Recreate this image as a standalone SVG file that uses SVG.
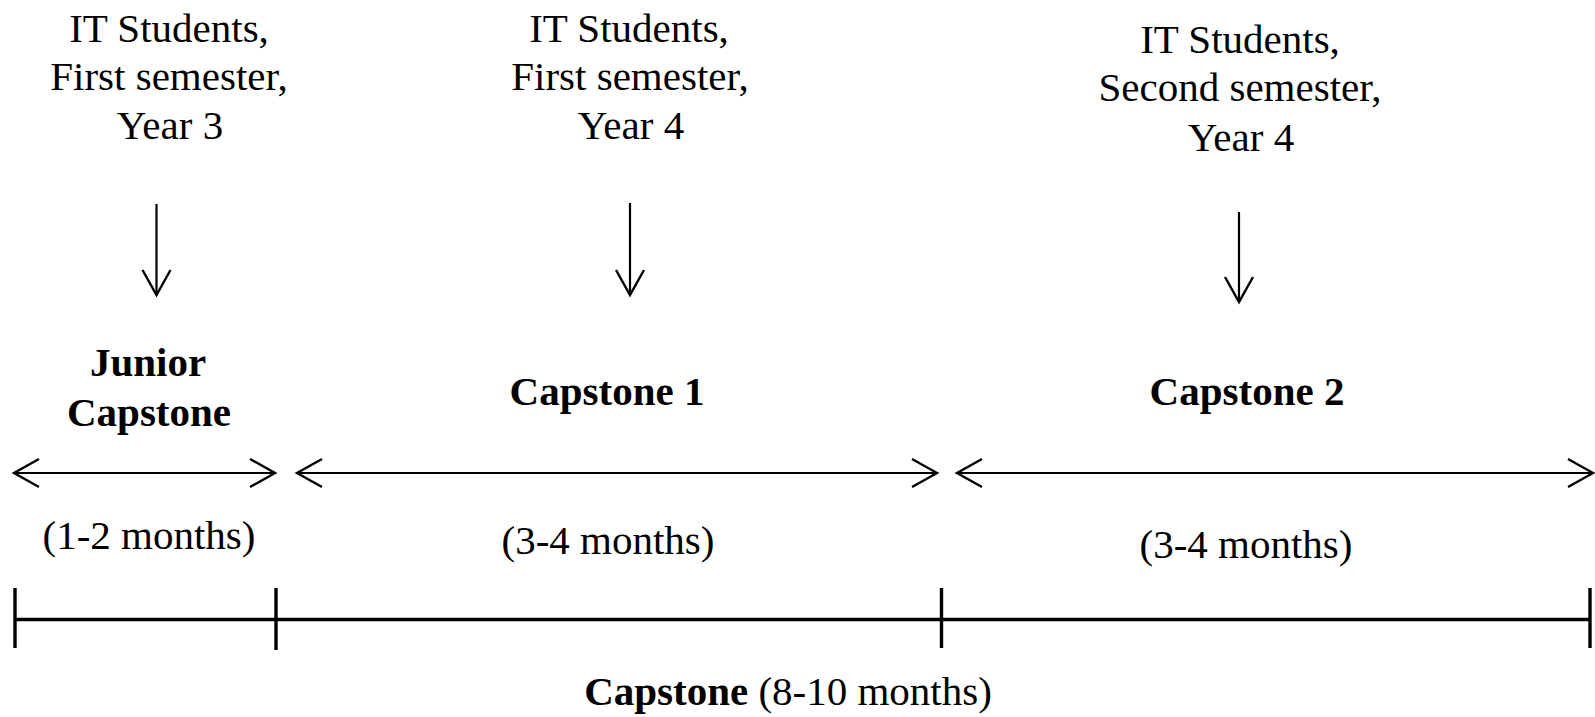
<svg xmlns="http://www.w3.org/2000/svg" width="1595" height="717" viewBox="0 0 1595 717">
<style>
text{font-size:41px;fill:#000;text-anchor:middle}
.b{font-weight:bold}
.thin{stroke:#000;stroke-width:2.2;fill:none}
.thick{stroke:#000;stroke-width:3.4;fill:none}
</style>
<defs>
<marker id="ah" markerUnits="userSpaceOnUse" markerWidth="60" markerHeight="60" refX="0" refY="0" orient="auto-start-reverse" overflow="visible">
<path d="M-25,-14 L0,0 L-25,14" fill="none" stroke="#000" stroke-width="2.4" stroke-linejoin="miter"/>
</marker>
</defs>
<rect width="1595" height="717" fill="#fff"/>
<g font-family="Liberation Serif, Times New Roman, DejaVu Serif, serif">
<g id="group1">
<text x="169" y="42">IT Students,</text>
<text x="169" y="90">First semester,</text>
<text x="170" y="139">Year 3</text>
</g>
<g id="group2">
<text x="629" y="42">IT Students,</text>
<text x="630" y="90">First semester,</text>
<text x="631" y="139">Year 4</text>
</g>
<g id="group3">
<text x="1240" y="53">IT Students,</text>
<text x="1240" y="101">Second semester,</text>
<text x="1241" y="151">Year 4</text>
</g>
<g id="junior">
<text class="b" x="148" y="376">Junior</text>
<text class="b" x="149" y="426">Capstone</text>
<text x="149" y="549">(1-2 months)</text>
</g>
<g id="capstone1">
<text class="b" x="607" y="405">Capstone 1</text>
<text x="608" y="554">(3-4 months)</text>
</g>
<g id="capstone2">
<text class="b" x="1247" y="405">Capstone 2</text>
<text x="1246" y="558">(3-4 months)</text>
</g>
<g id="total">
<text x="788" y="705"><tspan class="b">Capstone</tspan> (8-10 months)</text>
</g>
</g>
<g id="connectors">
<line class="thin" x1="156.5" y1="204" x2="156.5" y2="295" marker-end="url(#ah)"/>
<line class="thin" x1="630" y1="203" x2="630" y2="295" marker-end="url(#ah)"/>
<line class="thin" x1="1239" y1="212" x2="1239" y2="302" marker-end="url(#ah)"/>
<line class="thin" x1="14" y1="473" x2="275" y2="473" marker-start="url(#ah)" marker-end="url(#ah)"/>
<line class="thin" x1="297" y1="473" x2="937" y2="473" marker-start="url(#ah)" marker-end="url(#ah)"/>
<line class="thin" x1="957" y1="473" x2="1593" y2="473" marker-start="url(#ah)" marker-end="url(#ah)"/>
<line class="thick" x1="15" y1="619.5" x2="1590" y2="619.5"/>
<line class="thick" x1="15" y1="588" x2="15" y2="648"/>
<line class="thick" x1="276" y1="588" x2="276" y2="650"/>
<line class="thick" x1="941.5" y1="588" x2="941.5" y2="648"/>
<line class="thick" x1="1590" y1="588" x2="1590" y2="648"/>
</g>
</svg>
